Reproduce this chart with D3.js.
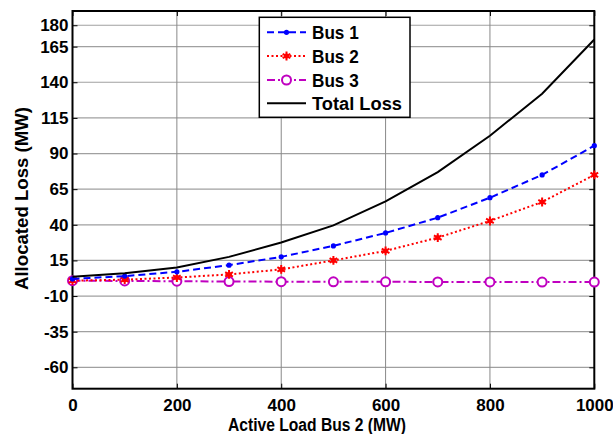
<html>
<head>
    <meta charset="utf-8">
    <title>allocated loss</title>
    <style>
        body { margin: 0; background: #fff; }
        text { font-family: Arial, "Liberation Sans", sans-serif; font-weight: bold; }
        .grid line { stroke: #a0a0a0; stroke-width: 1.2px; }
        .axis path, .axis line { stroke: #000; }
        .axis text { font-size: 17px; fill: #000; }
    </style>
</head>
<body>
    <svg id="chart"></svg>
    <script src="https://d3js.org/d3.v7.min.js"></script>
    <script>
        let width = 613,
            height = 434,
            margin = { left: 72.5, right: 18.7, top: 11, bottom: 45.3 };

        // x: active load on bus 2 (MW)
        let loads = [0, 100, 200, 300, 400, 500, 600, 700, 800, 900, 1000];
        let bus1 = [2, 4, 7, 11.7, 17.5, 25.2, 34.3, 45, 59, 75, 95.5];
        let bus2 = [0.8, 1.5, 3, 5.2, 8.7, 15, 21.7, 31, 42.7, 56, 75];
        let bus3 = [0.8, 0.6, 0.4, 0.2, 0.1, 0, 0, -0.1, -0.1, -0.2, -0.2];
        let total = [3.5, 6, 10, 17.5, 27.6, 39.6, 56.4, 77, 102.5, 132, 170];
        let xTicks = [0, 200, 400, 600, 800, 1000];
        let yTicks = [-60, -35, -10, 15, 40, 65, 90, 115, 140, 165, 180];

        let svg = d3.select('#chart')
            .attr('width', width)
            .attr('height', height);

        let x = d3.scaleLinear().domain([0, 1000]).range([margin.left, width - margin.right]),
            y = d3.scaleLinear().domain([-75, 190]).range([height - margin.bottom, margin.top]);

        let fmt = d => String(d);

        // grid
        svg.append('g').attr('class', 'grid')
            .selectAll('line.h').data(yTicks).enter().append('line')
            .attr('x1', x(0)).attr('x2', x(1000))
            .attr('y1', d => y(d)).attr('y2', d => y(d));
        svg.append('g').attr('class', 'grid')
            .selectAll('line.v').data(xTicks.slice(1, -1)).enter().append('line')
            .attr('y1', y(-75)).attr('y2', y(190))
            .attr('x1', d => x(d)).attr('x2', d => x(d))
            .style('stroke', '#888').style('stroke-width', 1);

        // axes, ticks inward
        svg.append('g').attr('class', 'axis')
            .attr('transform', 'translate(0,' + y(-75) + ')')
            .call(d3.axisBottom(x).tickValues(xTicks).tickFormat(fmt).tickSizeInner(-5).tickSizeOuter(0).tickPadding(10))
            .call(g => g.select('.domain').remove());
        svg.append('g').attr('class', 'axis')
            .attr('transform', 'translate(' + x(0) + ',0)')
            .call(d3.axisLeft(y).tickValues(yTicks).tickFormat(fmt).tickSizeInner(-5).tickSizeOuter(0).tickPadding(4))
            .call(g => g.select('.domain').remove());
        svg.append('g').attr('class', 'axis')
            .attr('transform', 'translate(0,' + y(190) + ')')
            .call(d3.axisTop(x).tickValues(xTicks).tickSizeInner(-5).tickSizeOuter(0).tickFormat(''))
            .call(g => g.select('.domain').remove());
        svg.append('g').attr('class', 'axis')
            .attr('transform', 'translate(' + x(1000) + ',0)')
            .call(d3.axisRight(y).tickValues(yTicks).tickSizeInner(-5).tickSizeOuter(0).tickFormat(''))
            .call(g => g.select('.domain').remove());

        svg.append('rect')
            .attr('x', x(0)).attr('y', y(190))
            .attr('width', x(1000) - x(0)).attr('height', y(-75) - y(190))
            .attr('fill', 'none').attr('stroke', '#000').attr('stroke-width', 2);

        // axis titles
        svg.append('text')
            .attr('x', 228).attr('y', 431)
            .attr('textLength', 178).attr('lengthAdjust', 'spacingAndGlyphs')
            .style('font-size', '18px')
            .text('Active Load Bus 2 (MW)');
        svg.append('text')
            .attr('transform', 'translate(28,290) rotate(-90)')
            .attr('textLength', 183).attr('lengthAdjust', 'spacingAndGlyphs')
            .style('font-size', '19px')
            .text('Allocated Loss (MW)');

        let series = [
            { name: 'Bus 1', values: bus1, color: '#0000ff', dash: '7,4', marker: 'dot', w: 46.7 },
            { name: 'Bus 2', values: bus2, color: '#ff0000', dash: '2,2.5', marker: 'star', w: 46.7 },
            { name: 'Bus 3', values: bus3, color: '#c000c0', dash: '8,3,2,3', marker: 'circle', w: 46.7 },
            { name: 'Total Loss', values: total, color: '#000', dash: null, marker: null, w: 90 }
        ];

        let line = d3.line()
            .x((d, i) => x(loads[i]))
            .y(d => y(d));

        function drawMarker(g, s, cx, cy) {
            if (s.marker == 'dot') {
                g.append('circle').attr('cx', cx).attr('cy', cy).attr('r', 2.6).attr('fill', s.color);
            } else if (s.marker == 'star') {
                g.append('path').attr('transform', 'translate(' + cx + ',' + cy + ')')
                    .attr('d', d3.symbol().type(d3.symbolAsterisk).size(55)())
                    .attr('stroke', s.color).attr('stroke-width', 2).attr('fill', 'none');
                g.append('circle').attr('cx', cx).attr('cy', cy).attr('r', 2.5).attr('fill', s.color);
            } else if (s.marker == 'circle') {
                g.append('circle').attr('cx', cx).attr('cy', cy).attr('r', 4.5)
                    .attr('fill', '#fff').attr('stroke', s.color).attr('stroke-width', 2);
            }
        }

        // draw bus 3 first, total last
        [series[2], series[1], series[0], series[3]].forEach(function (s) {
            let g = svg.append('g');
            g.append('path')
                .datum(s.values)
                .attr('d', line)
                .attr('fill', 'none')
                .attr('stroke', s.color)
                .attr('stroke-width', 2)
                .attr('stroke-dasharray', s.dash);
            s.values.forEach(function (v, i) {
                drawMarker(g, s, x(loads[i]), y(v));
            });
        });

        // legend
        let lg = svg.append('g');
        lg.append('rect')
            .attr('x', 259.3).attr('y', 17.3)
            .attr('width', 150.7).attr('height', 100)
            .attr('fill', '#fff').attr('stroke', '#000').attr('stroke-width', 1.5);
        let legY = [32.3, 56, 80, 103.3];
        series.forEach(function (s, i) {
            lg.append('line')
                .attr('x1', 267).attr('x2', 306)
                .attr('y1', legY[i]).attr('y2', legY[i])
                .attr('stroke', s.color).attr('stroke-width', 2)
                .attr('stroke-dasharray', s.dash);
            drawMarker(lg, s, 286.5, legY[i]);
            lg.append('text')
                .attr('x', 312).attr('y', legY[i] + 6.5)
                .attr('textLength', s.w).attr('lengthAdjust', 'spacingAndGlyphs')
                .style('font-size', '18px')
                .text(s.name);
        });
    </script>
</body>
</html>
